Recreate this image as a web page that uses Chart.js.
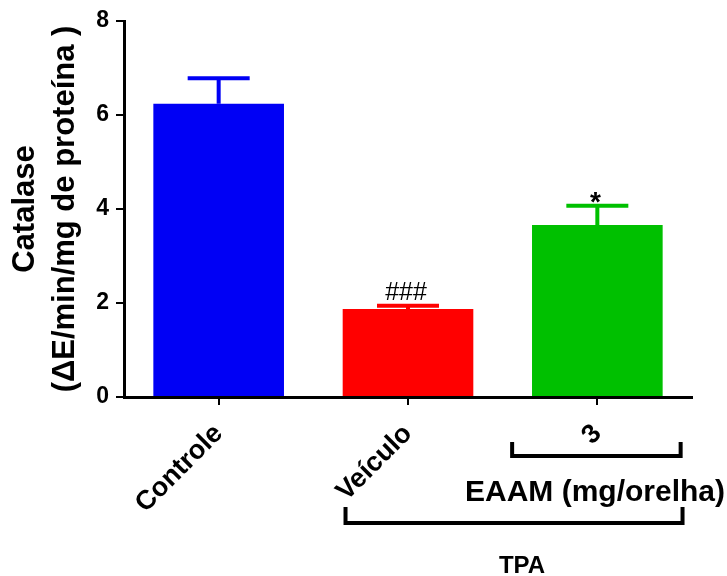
<!DOCTYPE html>
<html><head><meta charset="utf-8">
<script src="https://cdn.jsdelivr.net/npm/chart.js@4"></script>
<style>html,body{margin:0;padding:0;background:#fff}#wrap{width:727px;height:576px}</style>
</head><body><div id="wrap"><canvas id="c" width="727" height="576"></canvas></div>
<script>
const categories = ['Controle', 'Veículo', '3'];
const means = [6.24, 1.87, 3.66];
const sems = [0.54, 0.07, 0.41];
const barColors = ['#0000F5', '#FF0000', '#00C000'];
const marks = ['', '###', '*'];
const yTicks = [0, 2, 4, 6, 8];
const bracketLabels = ['EAAM (mg/orelha)', 'TPA'];
const bracketFrom = [1.55, 0.67];
const bracketTo = [2.44, 2.45];

const FONT = '"Liberation Sans", Arial, sans-serif';

const decor = {
  id: 'decor',
  afterDatasetsDraw(chart) {
    const ctx = chart.ctx, x = chart.scales.x, y = chart.scales.y;
    ctx.save();
    // error bars
    means.forEach((m, i) => {
      const cx = x.getPixelForValue(i);
      const yb = y.getPixelForValue(m);
      const yt = y.getPixelForValue(m + sems[i]);
      ctx.strokeStyle = barColors[i];
      ctx.lineWidth = 4;
      ctx.beginPath();
      ctx.moveTo(cx, yb); ctx.lineTo(cx, yt);
      ctx.moveTo(cx - 31, yt); ctx.lineTo(cx + 31, yt);
      ctx.stroke();
      if (marks[i]) {
        ctx.fillStyle = '#000';
        ctx.textAlign = 'center';
        ctx.textBaseline = 'alphabetic';
        if (marks[i] === '*') {
          ctx.font = 'bold 28px ' + FONT;
          ctx.fillText(marks[i], cx - 2, yt + 5);
        } else {
          ctx.font = '25px ' + FONT;
          ctx.fillText(marks[i], cx - 2, yt - 6);
        }
      }
    });
    // brackets
    const bY = [456, 523];
    const bTop = [442, 507];
    const tY = [501, 573];
    const tX = [595, 522];
    const tFont = ['bold 30px ', 'bold 24px '];
    ctx.strokeStyle = '#000';
    ctx.lineWidth = 4;
    ctx.lineCap = 'butt';
    bracketLabels.forEach((lab, k) => {
      const x1 = x.getPixelForValue(bracketFrom[k]);
      const x2 = x.getPixelForValue(bracketTo[k]);
      ctx.beginPath();
      ctx.moveTo(x1, bTop[k]); ctx.lineTo(x1, bY[k]); ctx.lineTo(x2, bY[k]); ctx.lineTo(x2, bTop[k]);
      ctx.stroke();
      ctx.fillStyle = '#000';
      ctx.font = tFont[k] + FONT;
      ctx.textAlign = 'center';
      ctx.textBaseline = 'alphabetic';
      ctx.fillText(lab, tX[k], tY[k]);
    });
    ctx.restore();
  }
};

new Chart(document.getElementById('c'), {
  type: 'bar',
  data: {
    labels: categories,
    datasets: [{
      data: means,
      backgroundColor: barColors,
      borderWidth: 0,
      barPercentage: 0.69,
      categoryPercentage: 1.0
    }]
  },
  options: {
    responsive: false,
    animation: false,
    layout: { padding: { top: 21, right: 35, left: 0, bottom: 0 } },
    plugins: { legend: { display: false }, tooltip: { enabled: false } },
    scales: {
      x: {
        offset: true,
        grid: { display: true, drawOnChartArea: false, drawTicks: true, tickLength: 8, color: '#000', lineWidth: 2, offset: false },
        border: { display: true, color: '#000', width: 3 },
        ticks: {
          color: '#000', autoSkip: false, minRotation: 45, maxRotation: 45, padding: 13,
          font: { family: FONT, size: 27, weight: 'bold' }
        },
        afterFit(s) { s.height = 179; }
      },
      y: {
        min: 0, max: 8,
        afterBuildTicks(s) { s.ticks = yTicks.map(v => ({ value: v })); },
        grid: { display: true, drawOnChartArea: false, drawTicks: true, tickLength: 8, color: '#000', lineWidth: 2 },
        border: { display: true, color: '#000', width: 3 },
        ticks: { color: '#000', padding: 7, font: { family: FONT, size: 23, weight: 'bold' } },
        title: {
          display: true,
          text: ['Catalase', '(ΔE/min/mg de proteína )'],
          color: '#000',
          font: { family: FONT, size: 31, weight: 'bold', lineHeight: 1.29 },
          padding: { top: 5, bottom: 0 }
        },
        afterFit(s) { s.width = 124; }
      }
    }
  },
  plugins: [decor]
});
</script></body></html>
